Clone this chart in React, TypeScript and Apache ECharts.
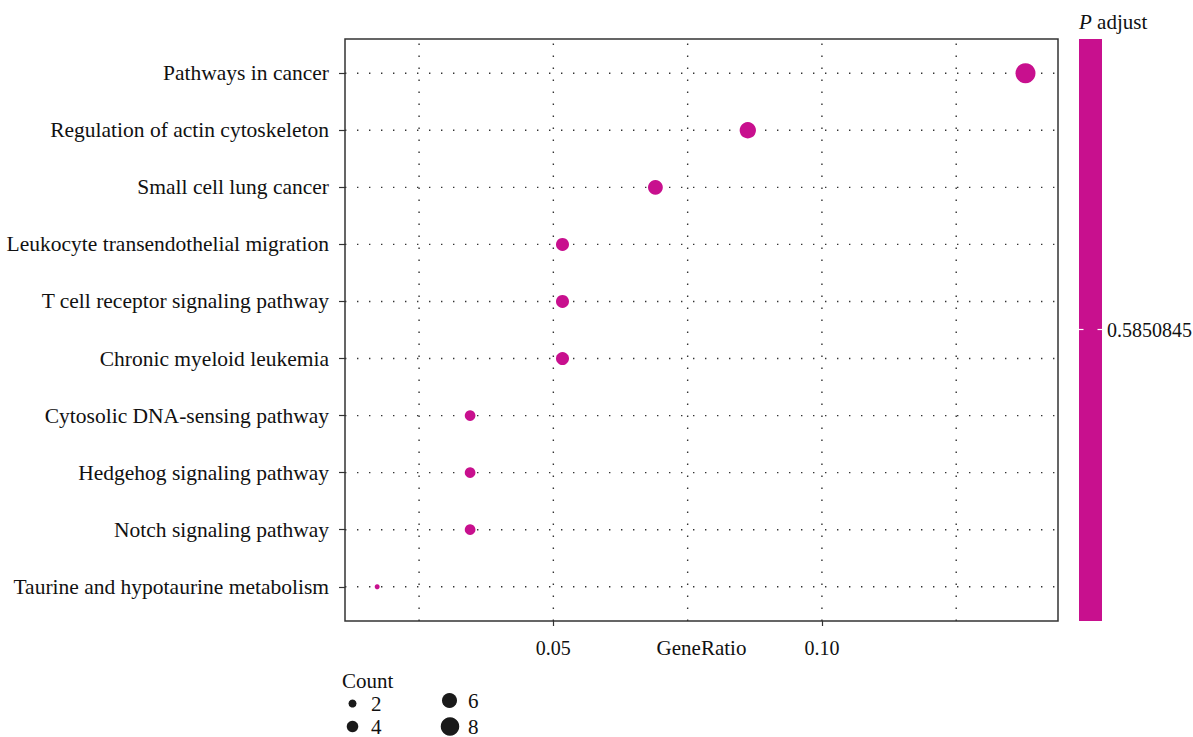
import React, { useEffect, useRef } from "react";
import * as echarts from "echarts";

const categories = [
  "Pathways in cancer",
  "Regulation of actin cytoskeleton",
  "Small cell lung cancer",
  "Leukocyte transendothelial migration",
  "T cell receptor signaling pathway",
  "Chronic myeloid leukemia",
  "Cytosolic DNA-sensing pathway",
  "Hedgehog signaling pathway",
  "Notch signaling pathway",
  "Taurine and hypotaurine metabolism",
];
const geneRatio = [0.1379, 0.0862, 0.069, 0.0517, 0.0517, 0.0517, 0.0345, 0.0345, 0.0345, 0.0172];
const counts = [8, 5, 4, 3, 3, 3, 2, 2, 2, 1];
const pAdjustLabel = "0.5850845";
const xGridValues = [0.025, 0.05, 0.075, 0.1, 0.125];
const xLabelValues = [0.05, 0.1];
const legendCounts = [2, 4, 6, 8];

const X_MIN = 0.01121;
const X_MAX = 0.14395;
const Y_MIN = 0.4;
const Y_MAX = 10.6;

const COLOR = "#C8108E";
const FONT = "'Liberation Serif', 'DejaVu Serif', serif";

export default function App() {
  const ref = useRef<HTMLDivElement>(null);
  useEffect(() => {
    if (!ref.current) return;
    const chart = echarts.init(ref.current, null, { renderer: "svg" });
    const n = categories.length;
    const cMin = Math.min(...counts);
    const cMax = Math.max(...counts);
    const sizeScale = (c: number) => 1 + 5 * Math.sqrt((c - cMin) / (cMax - cMin));
    const diameter = (c: number) => 2 + 3 * sizeScale(c);
    const legendDiameter = (c: number) => 4.5 + 1.75 * c;

    const data = categories.map((_, i) => [geneRatio[i], n - i, counts[i]]);
    const yValues = categories.map((_, i) => n - i);

    const dotted = { color: "#333", width: 1.4, type: [1.4, 10.6] as any };

    const gridSeries: any[] = [
      ...yValues.map((v) => ({
        type: "line",
        data: [
          [X_MIN, v],
          [X_MAX, v],
        ],
        symbol: "none",
        silent: true,
        lineStyle: dotted,
        z: 1,
      })),
      ...xGridValues.map((v) => ({
        type: "line",
        data: [
          [v, Y_MIN],
          [v, Y_MAX],
        ],
        symbol: "none",
        silent: true,
        lineStyle: dotted,
        z: 1,
      })),
    ];

    const legendGraphics: any[] = [
      {
        type: "text",
        left: 342,
        top: 670,
        style: { text: "Count", font: `21px ${FONT}`, fill: "#111" },
      },
    ];
    const legendPos = [
      [352.5, 703.5, 371],
      [352.5, 726.5, 371],
      [449.5, 700.5, 468],
      [450, 726.5, 468],
    ];
    legendCounts.forEach((c, i) => {
      const [cx, cy, tx] = legendPos[i];
      legendGraphics.push({
        type: "circle",
        shape: { cx, cy, r: legendDiameter(c) / 2 },
        style: { fill: "#1a1a1a" },
      });
      legendGraphics.push({
        type: "text",
        x: tx,
        y: cy,
        style: { text: String(c), font: `21px ${FONT}`, fill: "#111", verticalAlign: "middle" },
      });
    });

    chart.setOption({
      animation: false,
      grid: {
        left: 345,
        right: 135,
        top: 39,
        bottom: 116,
        show: true,
        borderColor: "#333",
        borderWidth: 1.5,
        backgroundColor: "#fff",
      },
      xAxis: {
        type: "value",
        min: X_MIN,
        max: X_MAX,
        name: "GeneRatio",
        nameLocation: "middle",
        nameGap: 27,
        nameMoveOverlap: false,
        nameTextStyle: { fontFamily: FONT, fontSize: 21, color: "#111", verticalAlign: "middle" },
        axisLine: { show: false },
        splitLine: { show: false },
        axisTick: { show: true, customValues: xLabelValues, length: 5, lineStyle: { color: "#333", width: 1.2 } },
        axisLabel: {
          customValues: xLabelValues,
          formatter: (v: number) => v.toFixed(2),
          fontFamily: FONT,
          fontSize: 20,
          color: "#111",
          margin: 17,
        },
      },
      yAxis: {
        type: "value",
        min: Y_MIN,
        max: Y_MAX,
        axisLine: { show: false },
        splitLine: { show: false },
        axisTick: { show: true, customValues: yValues, length: 6, lineStyle: { color: "#333", width: 1.2 } },
        axisLabel: {
          customValues: yValues,
          formatter: (v: number) => categories[n - Math.round(v)] ?? "",
          fontFamily: FONT,
          fontSize: 21.5,
          color: "#111",
          margin: 16,
        },
      },
      series: [
        ...gridSeries,
        {
          type: "scatter",
          data,
          symbolSize: (d: number[]) => diameter(d[2]),
          itemStyle: { color: COLOR, opacity: 1 },
          z: 5,
        },
      ],
      graphic: [
        {
          type: "rect",
          shape: { x: 1079, y: 39, width: 23, height: 582 },
          style: { fill: COLOR },
        },
        {
          type: "line",
          shape: { x1: 1079, y1: 329.5, x2: 1083.5, y2: 329.5 },
          style: { stroke: "#fff", lineWidth: 1.2 },
        },
        {
          type: "line",
          shape: { x1: 1097.5, y1: 329.5, x2: 1102, y2: 329.5 },
          style: { stroke: "#fff", lineWidth: 1.2 },
        },
        {
          type: "text",
          x: 1107,
          y: 330,
          style: { text: pAdjustLabel, font: `20px ${FONT}`, fill: "#111", verticalAlign: "middle" },
        },
        {
          type: "text",
          x: 1079,
          y: 22,
          style: {
            text: "{i|P} adjust",
            font: `21px ${FONT}`,
            fill: "#111",
            verticalAlign: "middle",
            rich: { i: { fontStyle: "italic", fontFamily: FONT, fontSize: 21, fill: "#111" } },
          },
        },
        ...legendGraphics,
      ],
    });
    return () => chart.dispose();
  }, []);
  return (
    <div
      ref={ref}
      style={{ position: "fixed", left: 0, top: 0, width: 1193, height: 737, background: "#fff" }}
    />
  );
}
